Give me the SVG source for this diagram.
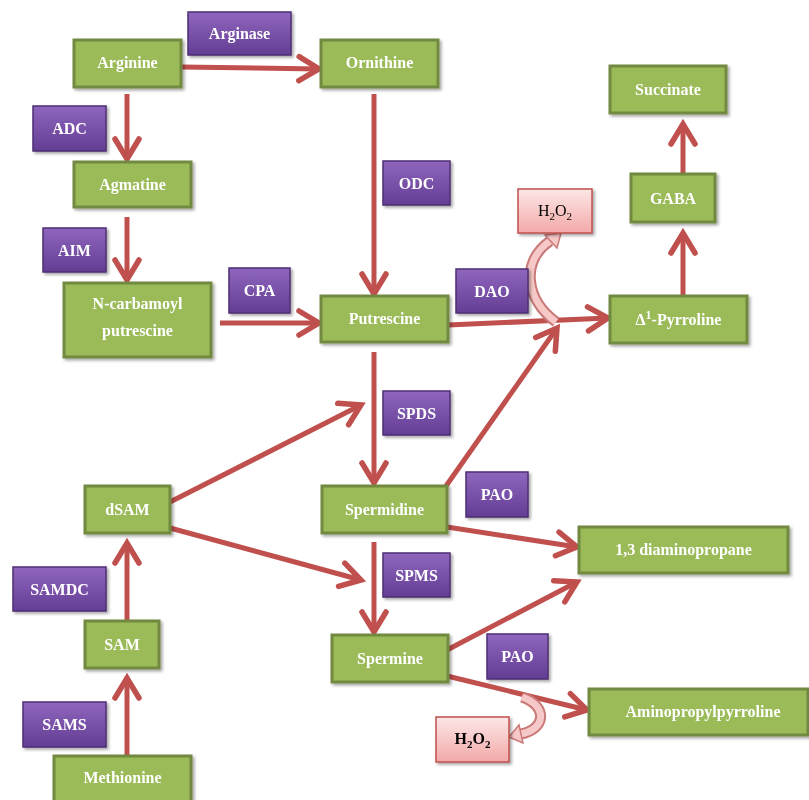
<svg xmlns="http://www.w3.org/2000/svg" width="809" height="800" viewBox="0 0 809 800">
<style>
.g rect{fill:#9bbb59;stroke:#71893f;stroke-width:3}
.p rect{fill:url(#pg);stroke:#4e2f73;stroke-width:1.5}
.h rect{fill:url(#hg);stroke:#c0504d;stroke-width:1.5}
.g text,.p text{fill:#fff;font-family:"Liberation Serif",serif;font-weight:bold;font-size:16px;text-anchor:middle}
.h text{fill:#000;font-family:"Liberation Serif",serif;font-size:16px;text-anchor:middle}
.box{filter:url(#sh)}
#conn line{stroke:#c0504d;stroke-width:5;marker-end:url(#ah)}
.band{fill:none;stroke:#c97a78;stroke-width:11}
.bandin{fill:none;stroke:#f6c9c8;stroke-width:7}
.bhead{fill:#f6c9c8;stroke:#c97a78;stroke-width:1.5}
</style>
<defs>
<linearGradient id="pg" x1="0" y1="0" x2="0" y2="1"><stop offset="0" stop-color="#8f66bd"/><stop offset="1" stop-color="#633d94"/></linearGradient>
<linearGradient id="hg" x1="0" y1="0" x2="0" y2="1"><stop offset="0" stop-color="#fde7e7"/><stop offset="1" stop-color="#f2a9a8"/></linearGradient>
<filter id="sh" x="-10%" y="-10%" width="130%" height="140%"><feDropShadow dx="2" dy="2" stdDeviation="1.5" flood-color="#000" flood-opacity="0.35"/></filter>
<marker id="ah" markerUnits="userSpaceOnUse" viewBox="0 0 26 30" markerWidth="26" markerHeight="30" refX="23" refY="15" orient="auto" overflow="visible">
<path d="M3,3 L23,15 L3,27" fill="none" stroke="#c0504d" stroke-width="5.5" stroke-linecap="round" stroke-linejoin="miter"/>
</marker>
</defs>
<rect width="809" height="800" fill="#fff"/>

<g id="conn">
<line x1="181" y1="67" x2="319" y2="69"/>
<line x1="127" y1="94" x2="127" y2="159"/>
<line x1="127" y1="217" x2="127" y2="280"/>
<line x1="220" y1="323" x2="319" y2="323"/>
<line x1="374" y1="94" x2="374" y2="294"/>
<line x1="448" y1="325" x2="608" y2="318"/>
<line x1="446" y1="486" x2="557" y2="328"/>
<line x1="374" y1="352" x2="374" y2="483"/>
<line x1="170" y1="502" x2="361" y2="405"/>
<line x1="170" y1="528" x2="361" y2="580"/>
<line x1="374" y1="542" x2="374" y2="632"/>
<line x1="127" y1="620" x2="127" y2="543"/>
<line x1="127" y1="756" x2="127" y2="678"/>
<line x1="447" y1="527" x2="577" y2="547"/>
<line x1="447" y1="650" x2="577" y2="582"/>
<line x1="447" y1="676" x2="587" y2="710"/>
<line x1="683" y1="174" x2="683" y2="124"/>
<line x1="683" y1="296" x2="683" y2="233"/>
<g id="dao-h2o2">
<path class="band" d="M556,322 C526,300 520,262 550,241"/>
<path class="bandin" d="M556,322 C526,300 520,262 550,241"/>
<polygon class="bhead" points="561,233 557,248 545,235"/>
</g>
<g id="pao-h2o2">
<path class="band" d="M522,697 C548,706 546,729 521,734"/>
<path class="bandin" d="M522,697 C548,706 546,729 521,734"/>
<polygon class="bhead" points="509,737 519,725 523,743"/>
</g>
</g>

<g id="arginine" class="g box"><rect x="74" y="40" width="107" height="47"/><text x="127.5" y="68">Arginine</text></g>
<g id="ornithine" class="g box"><rect x="321" y="40" width="117" height="47"/><text x="379.5" y="68">Ornithine</text></g>
<g id="arginase" class="p box"><rect x="188" y="12" width="103" height="43"/><text x="239.5" y="39">Arginase</text></g>
<g id="adc" class="p box"><rect x="33" y="106" width="73" height="45"/><text x="69.5" y="134">ADC</text></g>
<g id="agmatine" class="g box"><rect x="74" y="162" width="117" height="45"/><text x="132.5" y="190">Agmatine</text></g>
<g id="aim" class="p box"><rect x="43" y="228" width="63" height="44"/><text x="74.5" y="256">AIM</text></g>
<g id="ncarbamoyl" class="g box"><rect x="64" y="283" width="147" height="74"/><text x="137.5" y="309">N-carbamoyl</text><text x="137.5" y="336">putrescine</text></g>
<g id="cpa" class="p box"><rect x="229" y="268" width="61" height="45"/><text x="259.5" y="296">CPA</text></g>
<g id="putrescine" class="g box"><rect x="321" y="296" width="127" height="46"/><text x="384.5" y="324">Putrescine</text></g>
<g id="odc" class="p box"><rect x="383" y="161" width="67" height="44"/><text x="416.5" y="189">ODC</text></g>
<g id="succinate" class="g box"><rect x="610" y="66" width="116" height="47"/><text x="668" y="95">Succinate</text></g>
<g id="gaba" class="g box"><rect x="631" y="174" width="84" height="48"/><text x="673" y="204">GABA</text></g>
<g id="h2o2-top" class="h box"><rect x="518" y="189" width="74" height="44"/><text x="555" y="216">H<tspan font-size="11" dy="4">2</tspan><tspan dy="-4">O</tspan><tspan font-size="11" dy="4">2</tspan></text></g>
<g id="dao" class="p box"><rect x="456" y="269" width="72" height="44"/><text x="492" y="297">DAO</text></g>
<g id="pyrroline" class="g box"><rect x="610" y="296" width="137" height="47"/><text x="678.5" y="325">Δ<tspan font-size="12" dy="-6">1</tspan><tspan dy="6">-Pyrroline</tspan></text></g>
<g id="spds" class="p box"><rect x="383" y="391" width="67" height="44"/><text x="416.5" y="419">SPDS</text></g>
<g id="dsam" class="g box"><rect x="85" y="486" width="85" height="47"/><text x="127.5" y="515">dSAM</text></g>
<g id="spermidine" class="g box"><rect x="322" y="486" width="125" height="47"/><text x="384.5" y="515">Spermidine</text></g>
<g id="pao1" class="p box"><rect x="466" y="472" width="62" height="45"/><text x="497" y="500">PAO</text></g>
<g id="diaminopropane" class="g box"><rect x="579" y="527" width="209" height="46"/><text x="683.5" y="555">1,3 diaminopropane</text></g>
<g id="spms" class="p box"><rect x="383" y="553" width="67" height="44"/><text x="416.5" y="581">SPMS</text></g>
<g id="samdc" class="p box"><rect x="13" y="567" width="93" height="44"/><text x="59.5" y="595">SAMDC</text></g>
<g id="sam" class="g box"><rect x="85" y="621" width="74" height="47"/><text x="122" y="650">SAM</text></g>
<g id="spermine" class="g box"><rect x="332" y="635" width="116" height="47"/><text x="390" y="664">Spermine</text></g>
<g id="pao2" class="p box"><rect x="487" y="634" width="61" height="45"/><text x="517.5" y="662">PAO</text></g>
<g id="aminopropylpyrroline" class="g box"><rect x="589" y="689" width="219" height="46"/><text x="703" y="717">Aminopropylpyrroline</text></g>
<g id="h2o2-bottom" class="h box"><rect x="436" y="717" width="73" height="45"/><text x="472.5" y="744" font-weight="bold">H<tspan font-size="11" dy="4">2</tspan><tspan dy="-4">O</tspan><tspan font-size="11" dy="4">2</tspan></text></g>
<g id="sams" class="p box"><rect x="23" y="702" width="83" height="45"/><text x="64.5" y="730">SAMS</text></g>
<g id="methionine" class="g box"><rect x="54" y="756" width="137" height="48"/><text x="122.5" y="783">Methionine</text></g>
</svg>
